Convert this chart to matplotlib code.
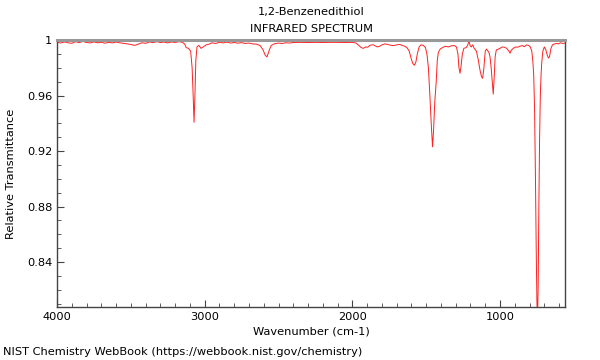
import numpy as np
import matplotlib
matplotlib.use("Agg")
import matplotlib.pyplot as plt
from matplotlib.ticker import MultipleLocator, FuncFormatter

# wavenumber (cm-1) and transmittance
wavenumber = [
    4000, 3975, 3950, 3925, 3900, 3875, 3850, 3825, 3800, 3775, 3750, 3725,
    3700, 3675, 3650, 3625, 3600, 3575, 3550, 3525, 3500, 3475, 3450, 3425,
    3400, 3375, 3350, 3325, 3300, 3275, 3250, 3225, 3200, 3175, 3150, 3135,
    3125, 3110, 3095, 3085, 3078, 3072, 3066, 3060, 3052, 3040, 3025, 3010,
    2990, 2970, 2950, 2925, 2900, 2875, 2850, 2825, 2800, 2775, 2750, 2725,
    2700, 2675, 2650, 2625, 2605, 2590, 2578, 2565, 2550, 2530, 2500, 2475,
    2450, 2425, 2400, 2350, 2300, 2250, 2200, 2150, 2100, 2050, 2000, 1975,
    1955, 1940, 1925, 1910, 1895, 1880, 1860, 1845, 1830, 1815, 1800, 1780,
    1760, 1740, 1720, 1700, 1680, 1660, 1645, 1630, 1615, 1600, 1590, 1580,
    1570, 1560, 1548, 1535, 1520, 1505, 1495, 1485, 1475, 1465, 1457, 1450,
    1442, 1432, 1425, 1418, 1405, 1390, 1370, 1350, 1330, 1310, 1295, 1285,
    1278, 1271, 1264, 1255, 1245, 1230, 1220, 1210, 1203, 1195, 1185, 1175,
    1160, 1148, 1135, 1125, 1118, 1110, 1100, 1092, 1085, 1075, 1068, 1060,
    1053, 1046, 1040, 1033, 1025, 1010, 1000, 985, 970, 955, 940, 932,
    925, 910, 895, 880, 865, 850, 835, 820, 805, 795, 785, 778,
    772, 766, 760, 755, 750, 746, 742, 737, 732, 727, 722, 718,
    710, 700, 690, 680, 672, 665, 655, 645, 635, 620, 605, 590,
    575, 560,
]
transmittance = [
    0.9985, 0.9978, 0.9986, 0.9980, 0.9976, 0.9988, 0.9981, 0.9990, 0.9982, 0.9979, 0.9986, 0.9980,
    0.9984, 0.9977, 0.9983, 0.9979, 0.9985, 0.9980, 0.9976, 0.9972, 0.9968, 0.9961, 0.9970, 0.9980,
    0.9976, 0.9986, 0.9981, 0.9988, 0.9982, 0.9985, 0.9979, 0.9986, 0.9982, 0.9988, 0.9983, 0.9970,
    0.9945, 0.9940, 0.9920, 0.9800, 0.9600, 0.9407, 0.9600, 0.9850, 0.9950, 0.9962, 0.9940, 0.9950,
    0.9965, 0.9970, 0.9980, 0.9975, 0.9984, 0.9979, 0.9985, 0.9978, 0.9982, 0.9977, 0.9981, 0.9975,
    0.9978, 0.9972, 0.9970, 0.9960, 0.9930, 0.9890, 0.9878, 0.9920, 0.9960, 0.9972, 0.9978, 0.9975,
    0.9980, 0.9978, 0.9982, 0.9983, 0.9982, 0.9983, 0.9982, 0.9983, 0.9983, 0.9982, 0.9983, 0.9978,
    0.9960, 0.9945, 0.9940, 0.9950, 0.9948, 0.9962, 0.9966, 0.9958, 0.9950, 0.9955, 0.9965, 0.9972,
    0.9968, 0.9962, 0.9960, 0.9965, 0.9968, 0.9960, 0.9955, 0.9945, 0.9920, 0.9860, 0.9830, 0.9818,
    0.9840, 0.9900, 0.9950, 0.9965, 0.9962, 0.9945, 0.9900, 0.9800, 0.9600, 0.9380, 0.9230, 0.9350,
    0.9550, 0.9700, 0.9850, 0.9910, 0.9935, 0.9945, 0.9955, 0.9950, 0.9958, 0.9960, 0.9950, 0.9900,
    0.9800, 0.9760, 0.9810, 0.9900, 0.9940, 0.9945, 0.9960, 0.9993, 0.9960, 0.9950, 0.9965, 0.9940,
    0.9920, 0.9860, 0.9780, 0.9735, 0.9724, 0.9790, 0.9920, 0.9935, 0.9925, 0.9910, 0.9880, 0.9800,
    0.9700, 0.9610, 0.9720, 0.9880, 0.9928, 0.9935, 0.9940, 0.9950, 0.9948, 0.9940, 0.9920, 0.9905,
    0.9925, 0.9940, 0.9950, 0.9948, 0.9955, 0.9960, 0.9952, 0.9965, 0.9960, 0.9950, 0.9920, 0.9850,
    0.9750, 0.9500, 0.9000, 0.8500, 0.8100, 0.8000, 0.8200, 0.8800, 0.9300, 0.9600, 0.9750, 0.9830,
    0.9920, 0.9950, 0.9930, 0.9890, 0.9870, 0.9880, 0.9940, 0.9965, 0.9970, 0.9975, 0.9972, 0.9980,
    0.9975, 0.9978,
]

title_lines = ["1,2-Benzenedithiol", "INFRARED SPECTRUM"]
footer = "NIST Chemistry WebBook (https://webbook.nist.gov/chemistry)"

plt.rcParams["font.family"] = "DejaVu Sans"
plt.rcParams["font.size"] = 8.2

fig = plt.figure(figsize=(6, 3.6), dpi=100)
ax = fig.add_axes([57 / 600, 1 - 307 / 360, 508 / 600, 267 / 360])

ax.plot(wavenumber, transmittance, color="#ff2020", linewidth=0.7)

ax.set_xlim(4000, 560)
ax.set_ylim(0.8076, 1.0)

ax.xaxis.set_major_locator(MultipleLocator(1000))
ax.xaxis.set_minor_locator(MultipleLocator(100))
ax.yaxis.set_major_locator(MultipleLocator(0.04))
ax.yaxis.set_minor_locator(MultipleLocator(0.01))
ax.yaxis.set_major_formatter(FuncFormatter(lambda v, p: "%g" % round(v, 2)))
ax.xaxis.set_major_formatter(FuncFormatter(lambda v, p: "%d" % v))

ax.tick_params(which="both", direction="in", colors="#444444", labelcolor="black",
               top=False, right=False)
ax.tick_params(which="major", length=5, width=0.8)
ax.tick_params(which="minor", length=3, width=0.6)

for side in ["left", "bottom", "right"]:
    ax.spines[side].set_color("#444444")
    ax.spines[side].set_linewidth(1)
ax.spines["top"].set_color("#999999")
ax.spines["top"].set_linewidth(2.2)

ax.set_xlabel("Wavenumber (cm-1)", labelpad=3)
ax.set_ylabel("Relative Transmittance", labelpad=8)

fig.text(311 / 600, 1 - 12 / 360, title_lines[0], ha="center", va="center")
fig.text(311 / 600, 1 - 29 / 360, title_lines[1], ha="center", va="center")
fig.text(0.005, 1 - 352 / 360, footer, va="center", ha="left")

fig.savefig("out.png", dpi=100)
